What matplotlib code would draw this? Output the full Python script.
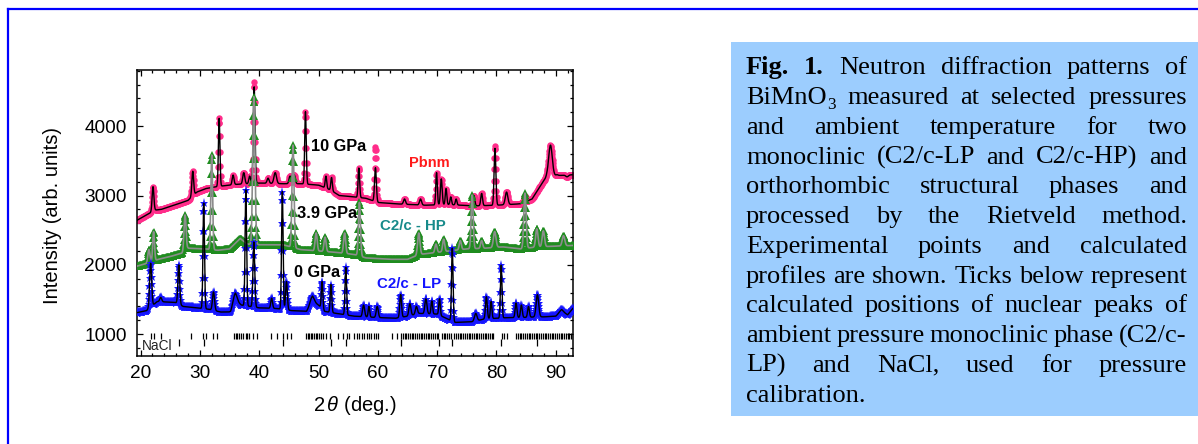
import numpy as np
import matplotlib
matplotlib.use("Agg")
import matplotlib.pyplot as plt
from matplotlib.lines import Line2D
from matplotlib.patches import Rectangle
from matplotlib.ticker import MultipleLocator

plt.rcParams['font.family'] = ['Liberation Sans', 'DejaVu Sans']
plt.rcParams['mathtext.fontset'] = 'custom'
plt.rcParams['mathtext.it'] = 'Liberation Sans:italic'
plt.rcParams['mathtext.rm'] = 'Liberation Sans'

# ---------------------------------------------------------------- data
# Backgrounds (2theta, intensity) and Bragg peaks (position, peak top, FWHM)
# for the three measured pressures.
bg0_x = [19.35, 21.0, 22.8, 25.8, 27.2, 29.5, 31.5, 33.5, 35.2, 36.0, 37.0, 40.0, 43.0,
         45.5, 48.0, 49.0, 50.0, 51.0, 53.0, 56.0, 60.0, 63.0, 65.0, 67.0, 70.0, 73.0,
         76.0, 78.0, 82.0, 84.0, 87.0, 88.0, 90.0, 91.0, 92.0, 92.95]
bg0_y = [1310, 1340, 1470, 1460, 1400, 1380, 1360, 1320, 1320, 1480, 1420, 1380, 1370,
         1340, 1330, 1470, 1420, 1330, 1300, 1260, 1240, 1230, 1260, 1300, 1290, 1170,
         1180, 1220, 1240, 1240, 1250, 1250, 1260, 1330, 1280, 1380]
pk0_pos = [21.7, 23.4, 26.45, 30.65, 32.3, 35.9, 37.75, 39.1, 42.1, 43.9, 44.6, 48.9,
           50.6, 52.1, 54.6, 57.6, 58.5, 59.9, 63.85, 65.4, 66.5, 68.1, 69.1, 70.4,
           72.55, 76.5, 78.3, 79.1, 80.8, 83.3, 84.2, 85.4, 86.9, 90.9]
pk0_top = [2023, 1530, 2000, 2890, 1610, 1580, 3080, 2330, 1520, 3055, 1760, 1540,
           1758, 1715, 1965, 1420, 1400, 1400, 1570, 1440, 1400, 1510, 1480, 1510,
           2240, 1300, 1540, 1470, 1995, 1450, 1420, 1400, 1570, 1350]
pk0_fw = [0.40, 0.4, 0.35, 0.30, 0.40, 0.8, 0.30, 0.35, 0.35, 0.30, 0.35, 0.8,
          0.30, 0.30, 0.30, 0.40, 0.30, 0.40, 0.35, 0.40, 0.40, 0.40, 0.30, 0.30,
          0.30, 0.5, 0.35, 0.30, 0.30, 0.35, 0.35, 0.35, 0.50, 0.8]

bg1_x = [19.35, 21.0, 23.0, 25.0, 27.0, 28.0, 31.0, 33.0, 35.0, 36.8, 38.0, 40.0, 44.0,
         47.0, 50.0, 53.0, 56.0, 58.0, 62.0, 65.0, 67.0, 69.0, 72.0, 75.0, 78.0, 81.0,
         84.0, 87.0, 92.95]
bg1_y = [1980, 2020, 2080, 2120, 2170, 2240, 2230, 2210, 2230, 2380, 2300, 2290, 2290,
         2220, 2200, 2180, 2150, 2100, 2080, 2080, 2150, 2170, 2200, 2230, 2240, 2260,
         2230, 2260, 2280]
pk1_pos = [21.4, 22.2, 27.5, 32.0, 39.1, 45.7, 49.6, 51.1, 54.4, 56.9, 66.9, 69.8,
           71.1, 73.9, 75.9, 77.5, 79.7, 84.8, 86.8, 87.9, 91.3]
pk1_top = [2220, 2480, 2720, 3584, 4424, 3727, 2460, 2400, 2460, 2900, 2460, 2300,
           2370, 2350, 3007, 2350, 2480, 3035, 2520, 2490, 2420]
pk1_fw = [0.40, 0.35, 0.40, 0.35, 0.45, 0.40, 0.40, 0.40, 0.40, 0.40, 0.45, 0.4,
          0.40, 0.40, 0.40, 0.4, 0.50, 0.45, 0.45, 0.45, 0.50]

bg2_x = [19.35, 21.0, 22.5, 23.5, 26.0, 28.0, 29.5, 31.0, 33.0, 36.0, 40.0, 44.0, 47.0,
         50.0, 52.0, 53.5, 56.0, 58.0, 60.0, 63.0, 68.0, 72.0, 76.0, 80.0, 84.0, 86.0,
         87.5, 88.5, 92.95]
bg2_y = [2640, 2720, 2790, 2800, 2870, 2930, 3050, 3100, 3130, 3160, 3180, 3170, 3170,
         3150, 3080, 3000, 2980, 2960, 2900, 2880, 2860, 2870, 2850, 2860, 2880, 2950,
         3150, 3280, 3300]
pk2_pos = [22.1, 28.8, 33.25, 35.6, 37.4, 38.4, 39.15, 41.5, 42.7, 45.2, 45.9, 47.8,
           51.25, 52.2, 56.8, 59.6, 64.5, 67.2, 69.9, 70.7, 71.5, 72.3, 73.2, 76.2,
           77.5, 79.75, 81.7, 84.8, 89.1, 90.2, 91.9]
pk2_top = [3127, 3350, 4112, 3295, 3330, 3280, 4567, 3250, 3330, 3280, 3300, 4208,
           3280, 3260, 3396, 3400, 2950, 2950, 3330, 3240, 3100, 2980, 2950, 3000,
           3030, 3680, 3050, 2990, 3727, 3300, 3270]
pk2_top_obs = [3127, 3350, 4112, 3295, 3330, 3280, 4640, 3250, 3330, 3280, 3300, 4208,
               3280, 3260, 3396, 3700, 2950, 2950, 3330, 3240, 3100, 2980, 2950, 3000,
               3030, 3720, 3050, 2990, 3727, 3300, 3270]
pk2_fw = [0.35, 0.35, 0.30, 0.35, 0.40, 0.35, 0.35, 0.40, 0.50, 0.4, 0.40, 0.30,
          0.30, 0.30, 0.30, 0.35, 0.4, 0.4, 0.30, 0.35, 0.30, 0.3, 0.3, 0.35,
          0.35, 0.35, 0.50, 0.40, 0.70, 0.40, 0.50]

# reflection markers: C2/c-LP phase and NaCl
ticks_lp = [21.68, 22.24, 23.37, 28.43, 30.56, 31.01, 32.25, 32.92,
            35.73, 36.07, 36.30, 36.64, 36.86, 37.31, 37.76, 37.98, 38.32, 39.0, 39.56,
            41.92, 42.93, 43.94, 44.61, 45.40,
            47.9, 48.2, 48.45, 48.7, 48.95, 49.2, 49.5, 49.8, 50.1, 50.4, 50.8, 51.3, 51.9,
            53.33, 54.17, 54.74, 55.07, 55.97,
            56.42, 56.9, 57.3, 57.7, 58.1, 58.5, 58.9, 59.3, 59.7, 60.07,
            62.32, 63.17, 63.84, 64.2, 64.5, 64.8, 65.1, 65.4, 65.7, 66.0, 66.3, 66.6, 66.9,
            67.2, 67.5, 67.8, 68.1, 68.4, 68.7, 69.0, 69.3, 69.6, 69.9, 70.2, 70.8, 71.1,
            71.4, 71.7, 72.0, 72.3, 72.9, 73.2, 73.5, 73.8, 74.1, 74.4, 74.7, 75.0, 75.3,
            75.6, 75.9, 76.2, 76.5, 76.8, 77.1, 77.4, 77.7, 78.0, 78.3, 78.6, 78.9, 79.2,
            79.47, 80.87, 81.27, 81.83,
            83.3, 83.6, 83.9, 84.2, 84.5, 84.8, 85.1, 85.4, 85.7, 86.0, 86.3, 86.6, 86.9,
            87.2, 87.5, 87.8, 88.1, 88.4, 88.7, 89.0, 89.3, 89.6, 89.9, 90.2, 90.5, 90.8,
            91.1, 91.4, 91.7, 92.0, 92.3, 92.6, 92.85]
ticks_nacl = [26.51, 30.67, 43.94, 52.09, 54.62, 63.84, 70.36, 72.55, 80.81, 86.88]

# ---------------------------------------------------------------- figure
W, H = 1198, 444
fig = plt.figure(figsize=(W / 100, H / 100), dpi=100)


def fx(px):
    return px / W


def fy(py):
    return 1 - py / H


two_theta = np.arange(19.35, 92.95, 0.05)


def profile(bg_x, bg_y, pos, top, fwhm):
    out = np.interp(two_theta, bg_x, bg_y)
    for p, t, w in zip(pos, top, fwhm):
        amp = t - np.interp(p, bg_x, bg_y)
        out = out + amp * np.exp(-4 * np.log(2) * ((two_theta - p) / w) ** 2)
    return out


calc0 = profile(bg0_x, bg0_y, pk0_pos, pk0_top, pk0_fw)
calc1 = profile(bg1_x, bg1_y, pk1_pos, pk1_top, pk1_fw)
calc2 = profile(bg2_x, bg2_y, pk2_pos, pk2_top, pk2_fw)
obs2 = profile(bg2_x, bg2_y, pk2_pos, pk2_top_obs, pk2_fw)

ax = fig.add_axes([fx(136.7), fy(355.7), (573 - 136.7) / W, (355.7 - 70) / H])

# 10 GPa, Pbnm
ax.plot(two_theta, obs2, ls='none', marker='o', ms=4.6, mew=0,
        color='#ff2d8a', zorder=2)
ax.plot(two_theta, calc2, color='black', lw=1.0, zorder=3)
# 3.9 GPa, C2/c-HP
ax.plot(two_theta, calc1, ls='none', marker='^', ms=5.2, mew=0,
        color='#1f8c1f', zorder=4)
ax.plot(two_theta, calc1, color='#8c8c8c', lw=1.2, zorder=5)
# 0 GPa, C2/c-LP
ax.plot(two_theta, calc0, ls='none', marker='*', ms=6.5, mew=0,
        color='#1515ff', zorder=6)
ax.plot(two_theta, calc0, color='black', lw=1.0, zorder=7)

ax.vlines(ticks_lp, 935, 1020, color='black', lw=0.9, zorder=8)
ax.vlines(ticks_nacl, 830, 925, color='black', lw=0.9, zorder=8)

ax.set_xlim(19.35, 92.9)
ax.set_ylim(690, 4810)
ax.xaxis.set_major_locator(MultipleLocator(10))
ax.xaxis.set_minor_locator(MultipleLocator(2))
ax.yaxis.set_major_locator(MultipleLocator(1000))
ax.yaxis.set_minor_locator(MultipleLocator(200))
ax.tick_params(which='both', direction='in', top=True, right=True, width=0.9,
               labelsize=13.7, pad=7)
ax.tick_params(which='major', length=4.5)
ax.tick_params(which='minor', length=2.5)
for s in ax.spines.values():
    s.set_linewidth(1.1)

ax.set_ylabel('Intensity (arb. units)', fontsize=14.5)
ax.yaxis.set_label_coords(-0.171, 0.49)
ax.set_xlabel(r'2$\,\theta$ (deg.)', fontsize=14.5)
ax.xaxis.set_label_coords(0.5, -0.135)

# labels for the three patterns
ax.text(48.72, 3645, '10 GPa', fontsize=11.8, fontweight='bold', color='black', zorder=9)
ax.text(65.3, 3415, 'Pbnm', fontsize=10.5, fontweight='bold', color='#ff1a1a', zorder=9)
ax.text(46.3, 2676, '3.9 GPa', fontsize=11.8, fontweight='bold', color='black', zorder=9)
ax.text(60.35, 2507, 'C2/c - HP', fontsize=10.8, fontweight='bold', color='#178a8a', zorder=9)
ax.text(45.85, 1821, '0 GPa', fontsize=11.8, fontweight='bold', color='black', zorder=9)
ax.text(59.9, 1671, 'C2/c - LP', fontsize=10.8, fontweight='bold', color='#1414ff', zorder=9)
ax.text(20.17, 774, 'NaCl', fontsize=9.8, color='#222222', zorder=9)

# frame lines along the top and the left edge
fig.add_artist(Line2D([fx(7.8), 1], [fy(9.3), fy(9.3)], color='#0000ff', lw=1.6))
fig.add_artist(Line2D([fx(7.8), fx(7.8)], [fy(9.3), 0], color='#0000ff', lw=1.6))

# caption box
fig.add_artist(Rectangle((fx(731), fy(416)), (W - 731) / W, (416 - 42) / H,
                         transform=fig.transFigure, facecolor='#9ccdfe',
                         edgecolor='none'))

caption = [
    "Fig. 1. Neutron diffraction patterns of",
    "BiMnO3 measured at selected pressures",
    "and ambient temperature for two",
    "monoclinic (C2/c-LP and C2/c-HP) and",
    "orthorhombic structural phases and",
    "processed by the Rietveld method.",
    "Experimental points and calculated",
    "profiles are shown. Ticks below represent",
    "calculated positions of nuclear peaks of",
    "ambient pressure monoclinic phase (C2/c-",
    "LP) and NaCl, used for pressure",
    "calibration.",
]
cap_size = 19
cap_family = 'Liberation Serif'
left, right = 746, 1187
base0, line_step = 74.3, 29.76
renderer = fig.canvas.get_renderer()


def word_parts(word):
    if word in ("Fig.", "1."):
        return [(word, 'bold', cap_size, 0)]
    if word == "BiMnO3":
        return [("BiMnO", 'normal', cap_size, 0), ("3", 'normal', cap_size * 0.65, 4.5)]
    return [(word, 'normal', cap_size, 0)]


def place_word(parts, x, y, measure_only=False):
    total = 0.0
    for txt, weight, size, dy in parts:
        t = fig.text(fx(x + total), fy(y + dy), txt, fontsize=size, fontweight=weight,
                     family=cap_family, va='baseline', ha='left', color='black')
        w = t.get_window_extent(renderer).width
        if measure_only:
            t.remove()
        total += w
    return total


for i, line in enumerate(caption):
    y = base0 + i * line_step
    words = line.split()
    widths = [place_word(word_parts(w), 0, 0, measure_only=True) for w in words]
    if i < len(caption) - 1 and len(words) > 1:
        gap = (right - left - sum(widths)) / (len(words) - 1)
    else:
        gap = place_word([(" ", 'normal', cap_size, 0)], 0, 0, measure_only=True)
    x = left
    for w, wd in zip(words, widths):
        place_word(word_parts(w), x, y)
        x += wd + gap

fig.savefig('out.png', dpi=100)
